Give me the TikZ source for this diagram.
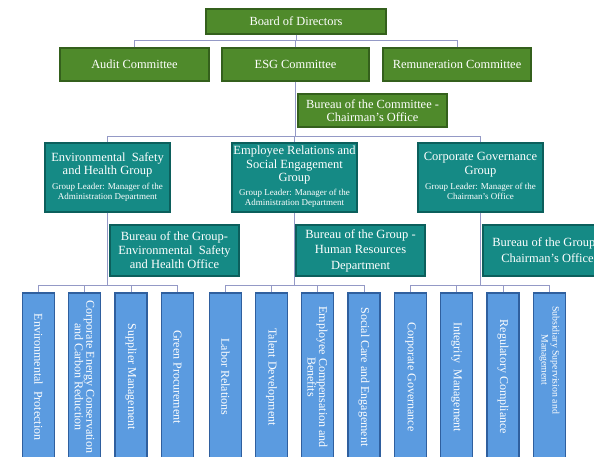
\documentclass[tikz,border=0pt]{standalone}
\usepackage{fontspec}
\setmainfont{Liberation Serif}

\definecolor{boardgreen}{HTML}{4F8A2B}
\definecolor{boardgreenedge}{HTML}{34601C}
\definecolor{groupteal}{HTML}{158A85}
\definecolor{grouptealedge}{HTML}{0C5F5C}
\definecolor{unitblue}{HTML}{5B9BE0}
\definecolor{unitblueedge}{HTML}{2F5F9E}
\definecolor{linkline}{HTML}{9499C6}

\tikzset{
  base/.style={rectangle, text=white, align=center, inner sep=1pt, line width=1.4pt},
  committee/.style={base, fill=boardgreen, draw=boardgreenedge,
    font=\fontsize{12.4}{13}\selectfont},
  group/.style={base, fill=groupteal, draw=grouptealedge,
    font=\fontsize{12.5}{13.5}\selectfont},
  unit/.style={base, fill=unitblue, draw=unitblueedge, rotate=-90,
    font=\fontsize{12}{11.5}\selectfont, minimum width=168pt, minimum height=32pt},
  link/.style={draw=linkline, line width=1pt},
}
% two-line "Group Leader" note set in a smaller size with its own leading
\newcommand{\leadnote}[2]{{\fontsize{9}{10}\selectfont
  \begin{tabular}[t]{@{}c@{}}#1\\#2\end{tabular}}}

\begin{document}
\begin{tikzpicture}[x=1pt, y=-1pt]
  \fill[white] (0,0) rectangle (594,457);
  \clip (0,0) rectangle (594,457);

  % board and committees
  \node[committee, minimum width=180pt, minimum height=25pt] (board) at (296,21.5) {Board of Directors};
  \node[committee, minimum width=149pt, minimum height=33pt] (audit) at (134.5,64.5) {Audit Committee};
  \node[committee, minimum width=147pt, minimum height=33pt] (esg) at (295.5,64.5) {ESG Committee};
  \node[committee, minimum width=148pt, minimum height=33pt] (remun) at (457,64.5) {Remuneration Committee};
  \node[committee, minimum width=149pt, minimum height=33pt] (bureauc) at (372.5,110.5)
    {Bureau of the Committee -\\Chairman’s Office};

  % working groups
  \node[group, minimum width=125pt, minimum height=69pt] (esh) at (107.5,177.5)
    {Environmental\ \ Safety\\and Health Group\\[1.5pt]\leadnote{Group Leader: Manager of the}{Administration\ Department}};
  \node[group, minimum width=125pt, minimum height=69pt] (emp) at (294.5,177.5)
    {Employee Relations and\\Social Engagement\\Group\\[0.5pt]\leadnote{Group Leader: Manager of the}{Administration Department}};
  \node[group, minimum width=125pt, minimum height=69pt] (cg) at (480.5,177.5)
    {Corporate Governance\\Group\\[1.5pt]\leadnote{Group Leader: Manager of the}{Chairman’s Office}};

  % group bureaus
  \node[group, minimum width=129pt, minimum height=51pt, font=\fontsize{12.5}{14}\selectfont] (bureaua) at (174.5,250.5)
    {Bureau of the Group-\\Environmental\ \ Safety\\and Health Office};
  \node[group, minimum width=129pt, minimum height=51pt, font=\fontsize{12.5}{15.5}\selectfont] (bureaub) at (360.5,250.5)
    {Bureau of the Group -\\Human Resources\\Department};
  \node[group, minimum width=129pt, minimum height=51pt, font=\fontsize{12.5}{16}\selectfont] (bureaud) at (547.5,250.5)
    {Bureau of the Group -\\Chairman’s Office};

  % units
  \node[unit] (u1) at (38.5,377) {Environmental\ \ Protection};
  \node[unit] (u2) at (84.5,377) {Corporate Energy Conservation\\and Carbon Reduction};
  \node[unit] (u3) at (131,377) {Supplier Management};
  \node[unit] (u4) at (177.5,377) {Green Procurement};

  \node[unit] (u5) at (225.5,377) {Labor Relations};
  \node[unit] (u6) at (271.5,377) {Talent Development};
  \node[unit] (u7) at (317.5,377) {Employee Compensation and\\Benefits};
  \node[unit] (u8) at (364,377) {Social Care and Engagement};

  \node[unit] (u9) at (410.5,377) {Corporate Governance};
  \node[unit] (u10) at (456.5,377) {Integrity\ \ Management};
  \node[unit] (u11) at (503,377) {Regulatory Compliance};
  \node[unit, font=\fontsize{9.8}{11}\selectfont] (u12) at (549.5,377)
    {Subsidiary Supervision and\hspace*{34pt}\\Management\hspace*{34pt}};

  % bus points
  \coordinate (busa) at (296,41);
  \coordinate (busb) at (296,137);
  \coordinate (busc) at (107.5,285);
  \coordinate (busd) at (294.5,285);
  \coordinate (buse) at (480.5,285);

  % connectors
  \draw[link] (board.south) -- (busa);
  \draw[link] (audit.north) |- (busa);
  \draw[link] (esg.north) |- (busa);
  \draw[link] (remun.north) |- (busa);

  \draw[link] (esg.south) -- (esg.south |- busb);
  \draw[link] (esh.north) |- (busb);
  \draw[link] (emp.north) |- (busb);
  \draw[link] (cg.north) |- (busb);

  \draw[link] (esh.south) -- (busc);
  \foreach \u in {u1,u2,u3,u4} \draw[link] (\u.west) |- (busc);
  \draw[link] (emp.south) -- (busd);
  \foreach \u in {u5,u6,u7,u8} \draw[link] (\u.west) |- (busd);
  \draw[link] (cg.south) -- (buse);
  \foreach \u in {u9,u10,u11,u12} \draw[link] (\u.west) |- (buse);
\end{tikzpicture}
\end{document}
